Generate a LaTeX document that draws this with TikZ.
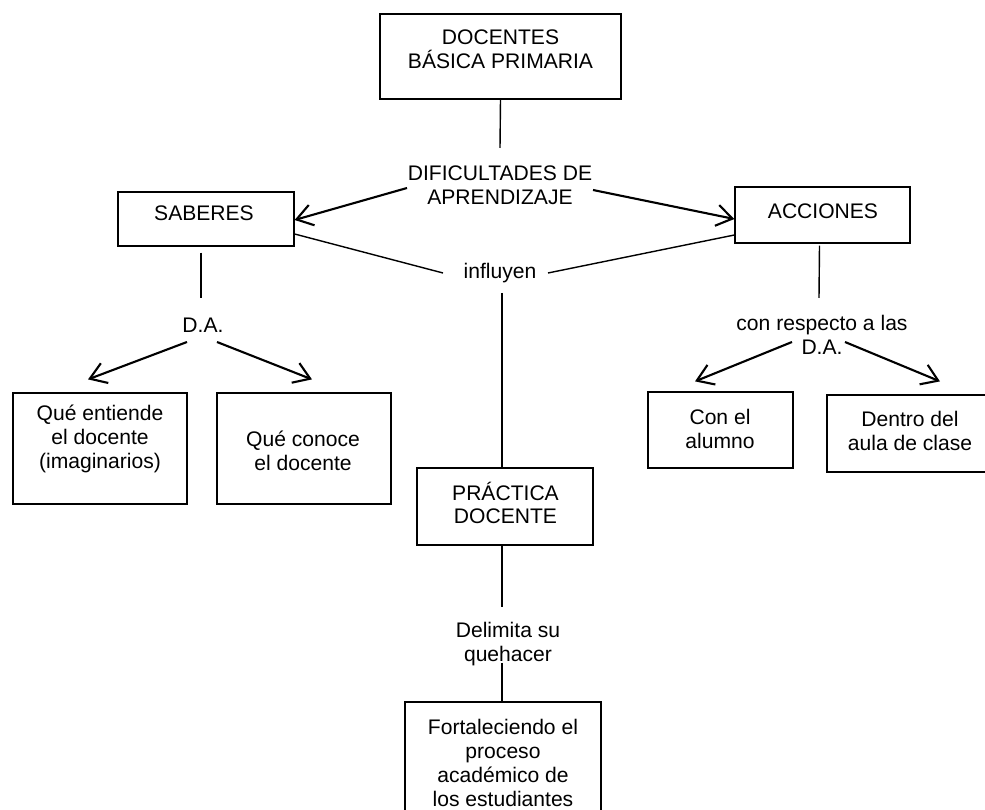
\documentclass[tikz,border=0pt]{standalone}
\usepackage{fontspec}
\setmainfont{Liberation Sans}
\usetikzlibrary{arrows.meta,calc}
\begin{document}
\begin{tikzpicture}[x=0.02cm,y=-0.02cm,
  box/.style={draw, line width=0.7pt, inner sep=0pt},
  txt/.style={font=\fontsize{12pt}{13.5pt}\selectfont, align=center, inner sep=0pt},
  link/.style={line width=0.8pt},
  arr/.style={line width=1.2pt, -{Straight Barb[length=9pt,width=12pt]}}]
\useasboundingbox (0,0) rectangle (985,810);
\clip (0,0) rectangle (985,810);

\node[box, minimum width=4.82cm, minimum height=1.70cm] (top) at (500.5,56.5) {};
\node[txt] (topt) at (500.5,49) {DOCENTES\\BÁSICA PRIMARIA};
\node[txt] (dif) at (500,185) {DIFICULTADES DE\\APRENDIZAJE};
\node[box, minimum width=3.52cm, minimum height=1.08cm] (sab) at (206,219) {};
\node[txt] (sabt) at (204,213) {SABERES};
\node[box, minimum width=3.50cm, minimum height=1.12cm] (acc) at (822.5,215) {};
\node[txt] (acct) at (823,211) {ACCIONES};
\node[txt] (inf) at (500,273) {influyen};
\node[txt] (da) at (203,325) {D.A.};
\node[txt] (con) at (822,335) {con respecto a las\\D.A.};
\node[box, minimum width=3.48cm, minimum height=2.22cm] (qe) at (100,448.5) {};
\node[txt] (qet) at (100,439) {Qué entiende\\el docente\\(imaginarios)};
\node[box, minimum width=3.48cm, minimum height=2.22cm] (qc) at (304,448.5) {};
\node[txt] (qct) at (303,451) {Qué conoce\\el docente};
\node[box, minimum width=2.90cm, minimum height=1.52cm] (cea) at (720.5,430) {};
\node[txt] (ceat) at (720,429) {Con el\\alumno};
\node[box, minimum width=3.42cm, minimum height=1.54cm] (dent) at (912.5,433.5) {};
\node[txt] (dentt) at (910,431) {Dentro del\\aula de clase};
\node[box, minimum width=3.52cm, minimum height=1.54cm] (prac) at (505,506.5) {};
\node[txt] (pract) at (505.5,503) {PRÁCTICA\\DOCENTE};
\node[txt] (del) at (508,644) {Delimita su\\quehacer};
\node[box, minimum width=3.92cm, minimum height=2.40cm] (fort) at (503,762) {};
\node[txt] (fortt) at (503,763) {Fortaleciendo el\\proceso\\académico de\\los estudiantes};

\draw[link] (top.south) -- ($(dif.center)+(0,-37)$);
\draw[arr] ($(dif.center)+(-93,3)$) -- ($(sab.east)+(0,1)$);
\draw[arr] ($(dif.center)+(93,5)$) -- ($(acc.west)+(0,4)$);
\draw[link] ($(sab.east)+(0,15)$) -- ($(inf.center)+(-57,0)$);
\draw[link] ($(inf.center)+(48,0)$) -- ($(acc.west)+(0,20)$);
\coordinate (infb) at ($(inf.center)+(2,20)$);
\draw[link] (infb) -- (infb |- prac.north);
\draw[link] ($(sab.south)+(-5,6)$) -- ($(da.center)+(-2,-27)$);
\draw[arr] ($(da.center)+(-16,17)$) -- ($(qe.north)+(-12,-13)$);
\draw[arr] ($(da.center)+(14,17)$) -- ($(qc.north)+(8,-13)$);
\draw[link] ($(acc.south)+(-3,2)$) -- ($(con.center)+(-3,-37)$);
\draw[arr] ($(con.center)+(-30,7)$) -- ($(cea.north)+(-25.5,-10)$);
\draw[arr] ($(con.center)+(23,7)$) -- ($(dent.north)+(27.5,-13)$);
\draw[link] ($(prac.south)+(-3,0)$) -- ($(del.center)+(-6,-37)$);
\draw[link] ($(del.center)+(-6,19)$) -- ($(fort.north)+(-1,0)$);
\end{tikzpicture}
\end{document}
